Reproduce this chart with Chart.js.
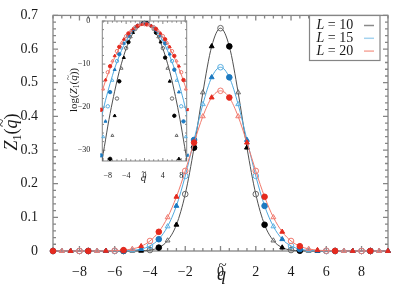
<!DOCTYPE html>
<html>
<head>
<meta charset="utf-8">
<script src="https://cdn.jsdelivr.net/npm/chart.js@4.4.1/dist/chart.umd.min.js"></script>
<style>
  html, body { margin: 0; padding: 0; background: #fff; }
  #wrap { position: relative; width: 411px; height: 288px; }
  #main { position: absolute; left: 0; top: 0; }
  #inset { position: absolute; left: 62px; top: 12px; }
</style>
</head>
<body>
<div id="wrap">
  <canvas id="main" width="411" height="288"></canvas>
  <canvas id="inset" width="130" height="178"></canvas>
</div>
<script>
// q~ values where the data points sit
const qValues = [-9.5, -9, -8.5, -8, -7.5, -7, -6.5, -6, -5.5, -5, -4.5, -4, -3.5, -3, -2.5, -2, -1.5, -1, -0.5,
  0, 0.5, 1, 1.5, 2, 2.5, 3, 3.5, 4, 4.5, 5, 5.5, 6, 6.5, 7, 7.5, 8, 8.5, 9, 9.5];

// Z1(q~)
const z10 = [0, 0, 0, 0, 0, 0, 0, 0, 0.00002, 0.00013, 0.00066, 0.0028, 0.0101, 0.031, 0.078, 0.169, 0.307, 0.471, 0.608,
  0.662, 0.608, 0.471, 0.307, 0.169, 0.078, 0.031, 0.0101, 0.0028, 0.00066, 0.00013, 0.00002, 0, 0, 0, 0, 0, 0, 0, 0];
const z15 = [0, 0, 0, 0, 0, 0.00001, 0.00004, 0.00017, 0.00062, 0.002, 0.0058, 0.0151, 0.035, 0.073, 0.134, 0.223, 0.330, 0.436, 0.516,
  0.546, 0.516, 0.436, 0.330, 0.223, 0.134, 0.073, 0.035, 0.0151, 0.0058, 0.002, 0.00062, 0.00017, 0.00004, 0.00001, 0, 0, 0, 0, 0];
const z20 = [0, 0, 0, 0.000007, 0.000028, 0.000098, 0.00031, 0.00094, 0.0025, 0.0062, 0.0142, 0.0298, 0.057, 0.100, 0.161, 0.238, 0.322, 0.400, 0.456,
  0.476, 0.456, 0.400, 0.322, 0.238, 0.161, 0.100, 0.057, 0.0298, 0.0142, 0.0062, 0.0025, 0.00094, 0.00031, 0.000098, 0.000028, 0.000007, 0, 0, 0];

// inset: log(Z1) of the data points
const logZ10 = [-40, -40, -40, -37, -32, -26.6, -22, -18, -14, -11, -8.5, -6.3, -4.9, -3.7, -2.7, -1.85, -1.2, -0.77, -0.5,
  -0.41, -0.5, -0.77, -1.2, -1.85, -2.7, -3.7, -4.9, -6.3, -8.5, -11, -14, -18, -22, -26.6, -32, -37, -40, -40, -40];
const logZ15 = [-31.2, -26.9, -23.3, -19.8, -16.5, -13.8, -11.3, -9.3, -7.7, -6.3, -5.2, -4.2, -3.4, -2.65, -2.02, -1.5, -1.11, -0.83, -0.66,
  -0.61, -0.66, -0.83, -1.11, -1.5, -2.02, -2.65, -3.4, -4.2, -5.2, -6.3, -7.7, -9.3, -11.3, -13.8, -16.5, -19.8, -23.3, -26.9, -31.2];
const logZ20 = [-20.6, -15.8, -13.7, -11.9, -10.5, -9.3, -8.1, -7.0, -6.0, -5.1, -4.25, -3.51, -2.87, -2.30, -1.83, -1.44, -1.13, -0.92, -0.79,
  -0.74, -0.79, -0.92, -1.13, -1.44, -1.83, -2.30, -2.87, -3.51, -4.25, -5.1, -6.0, -7.0, -8.1, -9.3, -10.5, -11.9, -13.7, -15.8, -20.6];

// inset: fitted curves, log scale
const qCurve = [-10, -9.5, -9, -8.5, -8, -7.5, -7, -6.5, -6, -5.5, -5, -4.5, -4, -3.5, -3, -2.5, -2, -1.5, -1, -0.5,
  0, 0.5, 1, 1.5, 2, 2.5, 3, 3.5, 4, 4.5, 5, 5.5, 6, 6.5, 7, 7.5, 8, 8.5, 9, 9.5, 10];
const fit10 = [-37.9, -34.3, -30.8, -27.6, -24.4, -21.5, -18.8, -16.3, -13.9, -11.7, -9.8, -8.0, -6.4, -5.0, -3.8, -2.8, -1.95, -1.3, -0.8, -0.51,
  -0.41, -0.51, -0.8, -1.3, -1.95, -2.8, -3.8, -5.0, -6.4, -8.0, -9.8, -11.7, -13.9, -16.3, -18.8, -21.5, -24.4, -27.6, -30.8, -34.3, -37.9];
const fit15 = [-25.3, -22.9, -20.6, -18.4, -16.4, -14.5, -12.7, -11.0, -9.5, -8.1, -6.8, -5.65, -4.6, -3.65, -2.85, -2.2, -1.6, -1.18, -0.86, -0.67,
  -0.61, -0.67, -0.86, -1.18, -1.6, -2.2, -2.85, -3.65, -4.6, -5.65, -6.8, -8.1, -9.5, -11.0, -12.7, -14.5, -16.4, -18.4, -20.6, -22.9, -25.3];
const fit20 = [-18.9, -17.1, -15.5, -13.9, -12.4, -11.0, -9.7, -8.5, -7.3, -6.3, -5.3, -4.45, -3.65, -2.97, -2.36, -1.88, -1.48, -1.15, -0.93, -0.79,
  -0.74, -0.79, -0.93, -1.15, -1.48, -1.88, -2.36, -2.97, -3.65, -4.45, -5.3, -6.3, -7.3, -8.5, -9.7, -11.0, -12.4, -13.9, -15.5, -17.1, -18.9];

const xTickLabels = [-8, -6, -4, -2, 0, 2, 4, 6, 8];
const yTickLabels = [0, 0.1, 0.2, 0.3, 0.4, 0.5, 0.6, 0.7];
const insetXTicks = [-8, -4, 0, 4, 8];
const insetYTicks = [-30, -20, -10, 0];
const seriesNames = ['10', '15', '20'];

const serif = '"Liberation Serif", "DejaVu Serif", serif';
const frameColor = '#858585';
const lineColors = ['#505050', '#4fa9df', '#f27a6c'];
const fillColors = ['#000000', '#1c79c0', '#e52a1e'];
const openColors = ['#6a6a6a', '#5cb0e2', '#f07a70'];
const legendColors = ['#8a8a8a', '#a4d3ef', '#f6a89c'];

// marker kind repeats every 2 in q: open circle, filled circle, open triangle, filled triangle
function markerKind(q) {
  const m = ((q % 2) + 2) % 2;
  if (m === 0) return { style: 'circle', filled: false };
  if (m === 0.5) return { style: 'circle', filled: true };
  if (m === 1) return { style: 'triangle', filled: false };
  return { style: 'triangle', filled: true };
}

function minus(v) { return v < 0 ? '\u2212' + Math.abs(v) : String(v); }

// draw a label made of several font runs, centred at (x, y)
function drawRich(ctx, parts, x, y, angle) {
  ctx.save();
  ctx.translate(x, y);
  ctx.rotate(angle);
  ctx.textBaseline = 'alphabetic';
  ctx.textAlign = 'left';
  let w = 0;
  parts.forEach(p => { ctx.font = p.font; p.w = ctx.measureText(p.t).width; w += p.w; });
  let cx = -w / 2;
  ctx.fillStyle = '#1a1a1a';
  parts.forEach(p => {
    ctx.font = p.font;
    ctx.fillText(p.t, cx, p.dy || 0);
    if (p.tilde) {
      ctx.font = p.tilde.font;
      ctx.textAlign = 'center';
      ctx.fillText('~', cx + p.w / 2 + p.tilde.dx, p.tilde.dy);
      ctx.textAlign = 'left';
    }
    cx += p.w;
  });
  ctx.restore();
}

// frame and inward ticks on all four sides
function frameTicks(cfg) {
  return {
    id: 'frameTicks',
    beforeDatasetsDraw(chart) {
      const { ctx, chartArea: a, scales: { x, y } } = chart;
      ctx.save();
      ctx.fillStyle = '#fff';
      ctx.fillRect(a.left, a.top, a.width, a.height);
      ctx.strokeStyle = frameColor;
      ctx.lineWidth = cfg.width;
      ctx.beginPath();
      for (let v = cfg.xFrom; v <= x.max + 1e-9; v += cfg.xMinor) {
        const px = x.getPixelForValue(v);
        const len = Math.abs(v / cfg.xMajor - Math.round(v / cfg.xMajor)) < 1e-6 ? cfg.major : cfg.minor;
        ctx.moveTo(px, a.bottom); ctx.lineTo(px, a.bottom - len);
        ctx.moveTo(px, a.top); ctx.lineTo(px, a.top + len);
      }
      for (let v = cfg.yFrom; v <= y.max + 1e-9; v += cfg.yMinor) {
        const py = y.getPixelForValue(v);
        const len = Math.abs(v / cfg.yMajor - Math.round(v / cfg.yMajor)) < 1e-6 ? cfg.major : cfg.minor;
        ctx.moveTo(a.left, py); ctx.lineTo(a.left + len, py);
        ctx.moveTo(a.right, py); ctx.lineTo(a.right - len, py);
      }
      ctx.stroke();
      ctx.strokeRect(a.left, a.top, a.width, a.height);
      ctx.restore();
    },
    afterDraw(chart) { cfg.labels(chart); }
  };
}

function pointDataset(i, ys, radius, withLine) {
  const kinds = qValues.map(markerKind);
  return {
    data: qValues.map((q, k) => ({ x: q, y: ys[k] })),
    showLine: withLine,
    borderColor: lineColors[i],
    borderWidth: 1,
    cubicInterpolationMode: 'monotone',
    pointStyle: kinds.map(k => k.style),
    pointRadius: radius,
    pointBorderWidth: 1,
    pointBorderColor: kinds.map(k => k.filled ? fillColors[i] : openColors[i]),
    pointBackgroundColor: kinds.map(k => k.filled ? fillColors[i] : 'rgba(255,255,255,0)'),
    clip: 4,
    order: 2 - i
  };
}

const mainSeries = [z10, z15, z20];
new Chart(document.getElementById('main'), {
  type: 'line',
  data: { datasets: mainSeries.map((s, i) => pointDataset(i, s, 2.8, true)) },
  options: {
    responsive: false,
    animation: false,
    layout: { padding: { left: 0, right: 23, top: 13, bottom: 0 } },
    plugins: { legend: { display: false }, tooltip: { enabled: false } },
    scales: {
      x: {
        type: 'linear', min: -9.5, max: 9.5,
        afterFit: s => { s.height = 37; },
        afterBuildTicks: s => { s.ticks = xTickLabels.map(v => ({ value: v })); },
        grid: { display: false }, border: { display: false },
        ticks: { padding: 5, color: '#1a1a1a', font: { family: serif, size: 14 }, callback: v => minus(v) }
      },
      y: {
        type: 'linear', min: 0, max: 0.7,
        afterFit: s => { s.width = 53; },
        afterBuildTicks: s => { s.ticks = yTickLabels.map(v => ({ value: v })); },
        grid: { display: false }, border: { display: false },
        ticks: { padding: 7, color: '#1a1a1a', font: { family: serif, size: 14 }, callback: v => v === 0 ? '0' : v.toFixed(1) }
      }
    }
  },
  plugins: [frameTicks({
    width: 1.3, major: 5, minor: 3,
    xFrom: -9.5, xMinor: 0.5, xMajor: 2,
    yFrom: 0, yMinor: 0.02, yMajor: 0.1,
    labels(chart) {
      const ctx = chart.ctx;
      drawRich(ctx, [{ t: 'q', font: 'italic 18px ' + serif, tilde: { font: '15px ' + serif, dx: 1, dy: -10 } }], 221.5, 280, 0);
      drawRich(ctx, [
        { t: 'Z', font: 'italic 18px ' + serif },
        { t: '1', font: '12px ' + serif, dy: 4 },
        { t: '(', font: '18px ' + serif },
        { t: 'q', font: 'italic 18px ' + serif, tilde: { font: '15px ' + serif, dx: 1, dy: -10 } },
        { t: ')', font: '18px ' + serif }
      ], 17, 132, -Math.PI / 2);
      // legend box, top right
      ctx.save();
      ctx.fillStyle = '#fff';
      ctx.fillRect(309.5, 15.5, 70.5, 45);
      ctx.strokeStyle = frameColor;
      ctx.lineWidth = 1.2;
      ctx.strokeRect(309.5, 15.5, 70.5, 45);
      seriesNames.forEach((n, i) => {
        const yy = 25.5 + i * 12.8;
        ctx.fillStyle = '#1a1a1a';
        ctx.textBaseline = 'middle';
        ctx.textAlign = 'left';
        ctx.font = 'italic 14px ' + serif;
        ctx.fillText('L', 316.5, yy);
        const lw = ctx.measureText('L').width;
        ctx.font = '14px ' + serif;
        ctx.fillText(' = ' + n, 316.5 + lw, yy);
        ctx.strokeStyle = legendColors[i];
        ctx.lineWidth = 1.5;
        ctx.beginPath();
        ctx.moveTo(364, yy); ctx.lineTo(374, yy);
        ctx.stroke();
      });
      ctx.restore();
    }
  })]
});

const fitSeries = [fit10, fit15, fit20];
const logSeries = [logZ10, logZ15, logZ20];
const insetSets = [];
fitSeries.forEach((s, i) => insetSets.push({
  data: qCurve.map((q, k) => ({ x: q, y: s[k] })),
  borderColor: lineColors[i], borderWidth: 1, pointRadius: 0,
  cubicInterpolationMode: 'monotone', clip: 0, order: 5
}));
logSeries.forEach((s, i) => insetSets.push(Object.assign(pointDataset(i, s, 1.7, false), { clip: 2 })));

new Chart(document.getElementById('inset'), {
  type: 'line',
  data: { datasets: insetSets },
  options: {
    responsive: false,
    animation: false,
    layout: { padding: { left: 0, right: 5.3, top: 9, bottom: 0 } },
    plugins: { legend: { display: false }, tooltip: { enabled: false } },
    scales: {
      x: {
        type: 'linear', min: -9.2, max: 9.2,
        afterFit: s => { s.height = 29; },
        afterBuildTicks: s => { s.ticks = insetXTicks.map(v => ({ value: v })); },
        grid: { display: false }, border: { display: false },
        ticks: { padding: 2, color: '#1a1a1a', font: { family: serif, size: 8 }, callback: v => minus(v) }
      },
      y: {
        type: 'linear', min: -32.5, max: 0,
        afterFit: s => { s.width = 40.3; },
        afterBuildTicks: s => { s.ticks = insetYTicks.map(v => ({ value: v })); },
        grid: { display: false }, border: { display: false },
        ticks: { padding: 4, color: '#1a1a1a', font: { family: serif, size: 8 }, callback: v => minus(v) }
      }
    }
  },
  plugins: [frameTicks({
    width: 1, major: 3, minor: 1.7,
    xFrom: -9, xMinor: 1, xMajor: 4,
    yFrom: -32, yMinor: 2, yMajor: 10,
    labels(chart) {
      const ctx = chart.ctx;
      drawRich(ctx, [{ t: 'q', font: 'italic 11px ' + serif, tilde: { font: '9px ' + serif, dx: 0.5, dy: -6 } }], 81.5, 168.5, 0);
      drawRich(ctx, [
        { t: 'log', font: '11px ' + serif },
        { t: '(', font: '11px ' + serif },
        { t: 'Z', font: 'italic 11px ' + serif },
        { t: '1', font: '7.5px ' + serif, dy: 2.5 },
        { t: '(', font: '11px ' + serif },
        { t: 'q', font: 'italic 11px ' + serif, tilde: { font: '9px ' + serif, dx: 0.5, dy: -6 } },
        { t: '))', font: '11px ' + serif }
      ], 14.5, 78, -Math.PI / 2);
    }
  })]
});
</script>
</body>
</html>
